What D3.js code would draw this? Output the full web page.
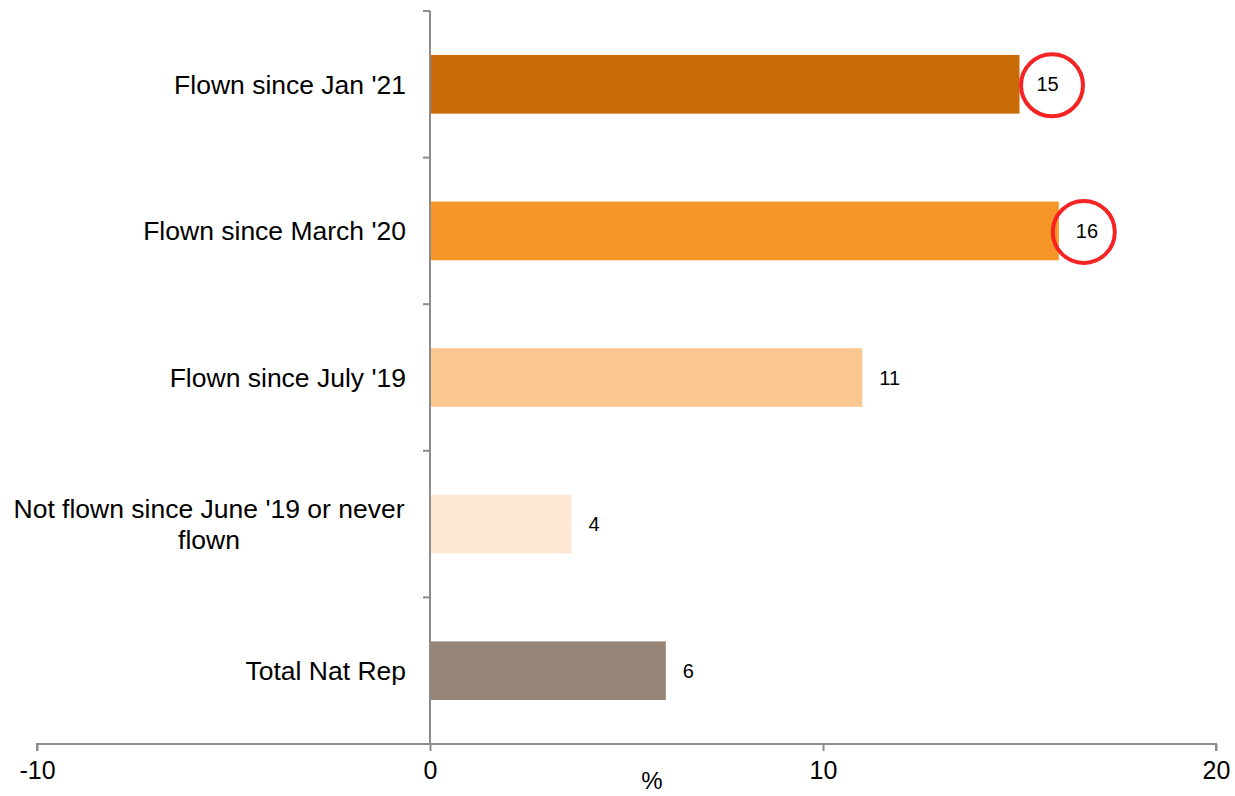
<!DOCTYPE html>
<html><head><meta charset="utf-8">
<script src="https://cdn.jsdelivr.net/npm/d3@7"></script>
<style>body{margin:0;background:#fff}svg{display:block}</style>
</head><body>
<svg id="c" width="1235" height="796"></svg>
<script>
const categories = ["Flown since Jan '21", "Flown since March '20", "Flown since July '19", "Not flown since June '19 or never flown", "Total Nat Rep"];
const values = [15, 16, 11, 3.6, 6];
const valueLabels = ["15", "16", "11", "4", "6"];
const colors = ["#C96B07", "#F69528", "#FBC790", "#FDE7D0", "#968576"];
const circleOffsets = [32.5, 25, null, null, null];
const xTicks = [-10, 0, 10, 20];

const svg = d3.select("#c");
const font = "Liberation Sans, Arial, sans-serif";
const x = d3.scaleLinear().domain([-10, 20]).range([37, 1216]);
const y = d3.scaleBand().domain(categories).range([11, 744]).paddingInner(0.6).paddingOuter(0.3);
const axisColor = "#8c8c8c";

// bars
svg.selectAll("rect.bar").data(values).join("rect")
  .attr("x", x(0)).attr("y", (d, i) => y(categories[i]))
  .attr("width", d => x(d) - x(0)).attr("height", y.bandwidth())
  .attr("fill", (d, i) => colors[i]);

// x axis
const xg = svg.append("g").attr("transform", `translate(0,${744})`)
  .call(d3.axisBottom(x).tickValues(xTicks).tickSize(7).tickPadding(10).tickFormat(d => String(d)));
xg.select(".domain").attr("stroke", axisColor).attr("stroke-width", 2).attr("d", `M${x(-10)},7V0H${x(20)}V7`);
xg.selectAll(".tick line").attr("stroke", axisColor).attr("stroke-width", 2);
xg.selectAll(".tick text").attr("font-family", font).attr("font-size", 25).attr("fill", "#000");

// y axis line with ticks between categories
const yb = d3.scaleLinear().domain([0, 5]).range([11, 744]);
svg.append("line").attr("x1", x(0)).attr("x2", x(0)).attr("y1", yb(0)).attr("y2", yb(5)).attr("stroke", axisColor).attr("stroke-width", 2);
svg.selectAll("line.yt").data(d3.range(0, 5)).join("line")
  .attr("x1", x(0) - 7).attr("x2", x(0)).attr("y1", d => yb(d)).attr("y2", d => yb(d))
  .attr("stroke", axisColor).attr("stroke-width", 2);

// category labels
categories.forEach((c, i) => {
  const cy = y(c) + y.bandwidth() / 2;
  const lines = c.length > 25 ? ["Not flown since June '19 or never", "flown"] : [c];
  const t = svg.append("text").attr("font-family", font).attr("font-size", 26.5).attr("fill", "#000");
  if (lines.length === 1) {
    t.attr("x", 406).attr("y", cy).attr("dy", "0.35em").attr("text-anchor", "end").text(c);
  } else {
    t.attr("text-anchor", "middle");
    lines.forEach((l, j) => t.append("tspan").attr("x", 209).attr("y", cy + (j - 0.5) * 31).attr("dy", "0.35em").text(l));
  }
});

// value labels
svg.selectAll("text.val").data(values).join("text")
  .attr("x", d => x(d) + 17)
  .attr("y", (d, i) => y(categories[i]) + y.bandwidth() / 2)
  .attr("dy", "0.35em")
  .attr("font-family", font).attr("font-size", 20).attr("fill", "#000")
  .text((d, i) => valueLabels[i]);

// highlight circles
svg.selectAll("circle.hl").data(values.map((v, i) => ({v, i})).filter(o => circleOffsets[o.i] != null)).join("circle")
  .attr("cx", o => x(o.v) + circleOffsets[o.i]).attr("cy", o => y(categories[o.i]) + y.bandwidth() / 2 + 1)
  .attr("r", 31).attr("fill", "none").attr("stroke", "#F42424").attr("stroke-width", 4);

// axis title
svg.append("text").attr("x", 652).attr("y", 789).attr("text-anchor", "middle")
  .attr("font-family", font).attr("font-size", 24).attr("fill", "#000").text("%");
</script>
</body></html>
